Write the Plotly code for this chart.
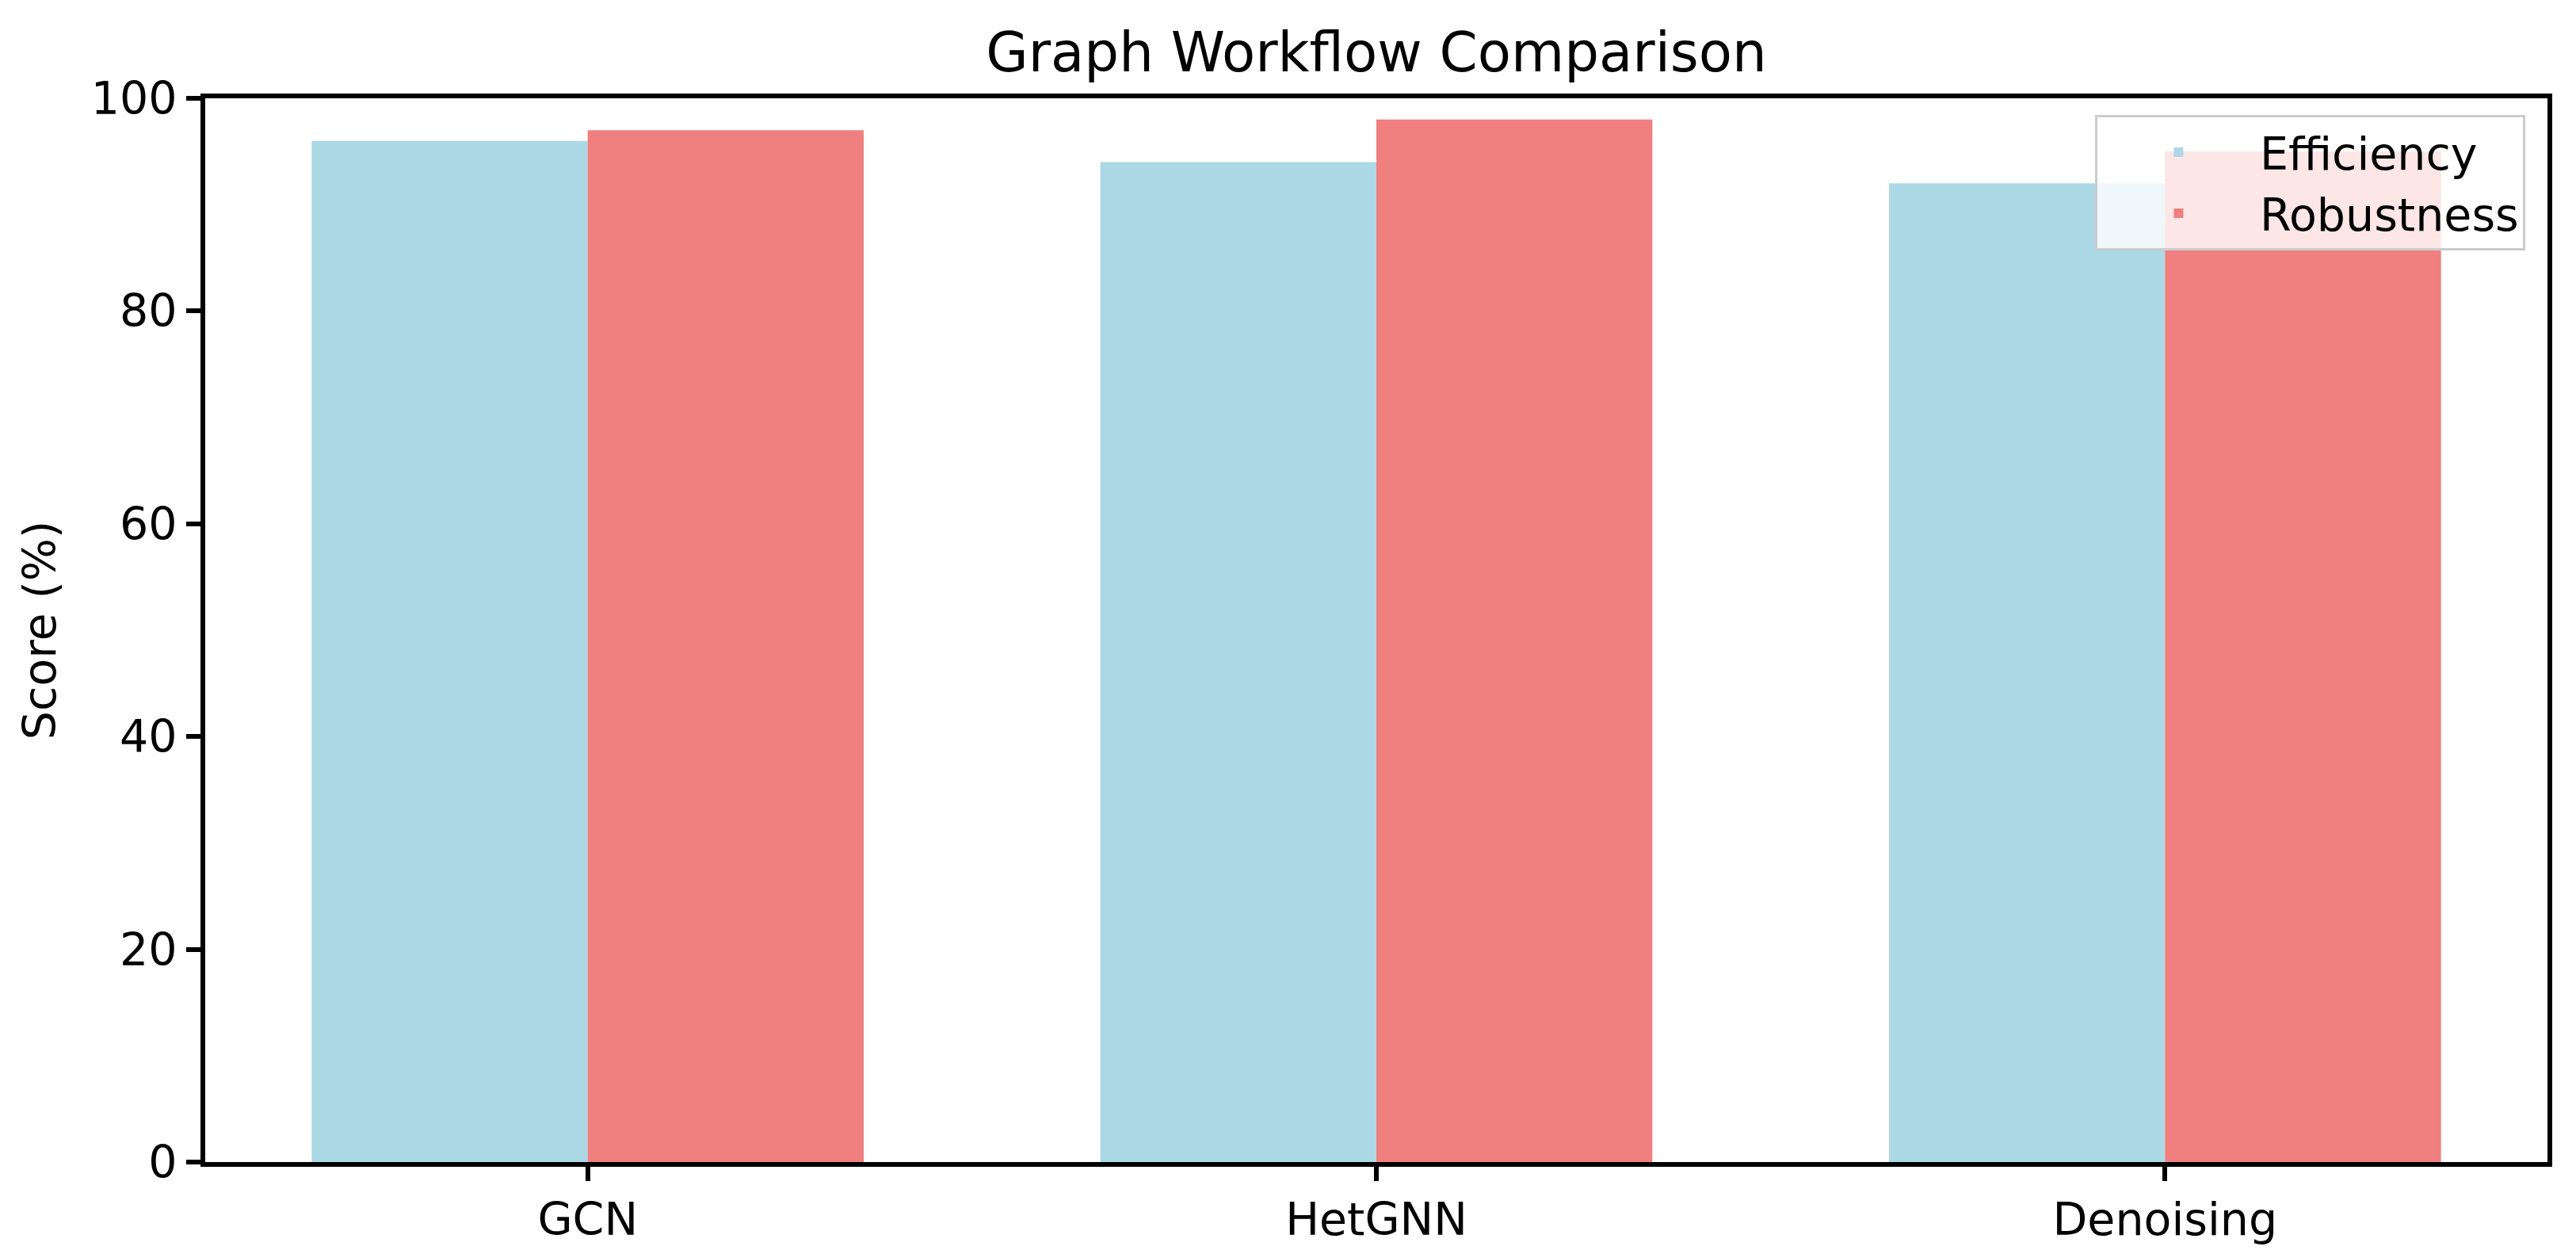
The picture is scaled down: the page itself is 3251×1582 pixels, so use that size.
"""Grouped bar chart: Graph Workflow Comparison."""

import plotly.graph_objects as go

# data
methods = ["GCN", "HetGNN", "Denoising"]
efficiency = [96, 94, 92]
robustness = [97, 98, 95]
y_ticks = [0, 20, 40, 60, 80, 100]

COLORS = {
    "efficiency": "#ADD8E6",  # lightblue
    "robustness": "#F08080",  # lightcoral
    "text": "black",
}
FONT = "DejaVu Sans"

fig = go.Figure()

fig.add_trace(
    go.Bar(
        x=methods,
        y=efficiency,
        name="Efficiency",
        marker=dict(color=COLORS["efficiency"], line=dict(width=0)),
    )
)
fig.add_trace(
    go.Bar(
        x=methods,
        y=robustness,
        name="Robustness",
        marker=dict(color=COLORS["robustness"], line=dict(width=0)),
    )
)

# page body adds an 8px offset, so margins are trimmed to compensate
fig.update_layout(
    width=3251,
    height=1582,
    margin=dict(l=251, r=44, t=116, b=124),
    barmode="group",
    bargap=0.3,
    bargroupgap=0,
    plot_bgcolor="white",
    paper_bgcolor="white",
    font=dict(family=FONT, size=57, color=COLORS["text"]),
    title=dict(
        text="Graph Workflow Comparison",
        font=dict(family=FONT, size=69, color=COLORS["text"]),
        x=0.5,
        xanchor="center",
        xref="paper",
        y=1 - 58 / 1582,
        yanchor="middle",
        yref="container",
    ),
    showlegend=True,
    legend=dict(
        x=0.9905,
        y=0.984,
        xanchor="right",
        yanchor="top",
        bgcolor="rgba(255,255,255,0.8)",
        bordercolor="#cccccc",
        borderwidth=3,
        font=dict(family=FONT, size=57, color=COLORS["text"]),
        itemwidth=195,
    ),
)

fig.update_xaxes(
    range=[-0.485, 2.485],
    showline=True,
    linecolor="black",
    linewidth=6,
    mirror=True,
    ticks="outside",
    ticklen=18,
    tickwidth=6,
    tickcolor="black",
    showgrid=False,
    zeroline=False,
    tickfont=dict(family=FONT, size=57, color=COLORS["text"]),
)
fig.update_yaxes(
    range=[0, 100],
    tickvals=y_ticks,
    showline=True,
    linecolor="black",
    linewidth=6,
    mirror=True,
    ticks="outside",
    ticklen=18,
    tickwidth=6,
    tickcolor="black",
    showgrid=False,
    zeroline=False,
    tickfont=dict(family=FONT, size=57, color=COLORS["text"]),
    title=dict(
        text="Score (%)",
        font=dict(family=FONT, size=57, color=COLORS["text"]),
        standoff=28,
    ),
)

fig.write_html("out.html")
